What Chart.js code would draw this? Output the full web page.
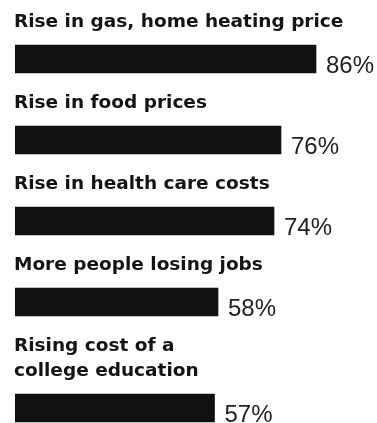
<!DOCTYPE html>
<html>
<head>
<meta charset="utf-8">
<script src="https://cdn.jsdelivr.net/npm/chart.js@4.4.0/dist/chart.umd.min.js"></script>
<style>
  html, body { margin: 0; padding: 0; background: #ffffff; }
  #wrap { width: 377px; height: 423px; }
</style>
</head>
<body>
<div id="wrap"><canvas id="c" width="377" height="423"></canvas></div>
<script>
// ---- data ----
const categories = [
  ["Rise in gas, home heating price"],
  ["Rise in food prices"],
  ["Rise in health care costs"],
  ["More people losing jobs"],
  ["Rising cost of a", "college education"]
];
const values = [86, 76, 74, 58, 57];
const valueLabels = ["86%", "76%", "74%", "58%", "57%"];

// ---- layout (row positions derived from number of title lines) ----
const TOP_PAD = 8;
const TITLE_LINE_H = 25;
const TITLE_TO_BAR_CENTER = 26;
const BAR_H = 28;
const ROW_GAP = 16;
const rowCenters = [];
const rowStarts = [];
{
  let start = TOP_PAD;
  categories.forEach(lines => {
    rowStarts.push(start);
    const center = start + lines.length * TITLE_LINE_H + TITLE_TO_BAR_CENTER;
    rowCenters.push(center);
    start = center + BAR_H / 2 + ROW_GAP;
  });
}

const labelPlugin = {
  id: 'rowLabels',
  afterDatasetsDraw(chart) {
    const ctx = chart.ctx;
    const meta = chart.getDatasetMeta(0);
    const yScale = chart.scales.y;
    ctx.save();
    // titles
    ctx.fillStyle = '#141414';
    ctx.font = 'bold 18.5px "DejaVu Sans"';
    ctx.textAlign = 'left';
    ctx.textBaseline = 'alphabetic';
    categories.forEach((lines, i) => {
      lines.forEach((ln, k) => {
        const y = yScale.getPixelForValue(rowStarts[i]) + 19 + k * TITLE_LINE_H;
        ctx.fillText(ln, 14, y);
      });
    });
    // values
    ctx.fillStyle = '#222222';
    ctx.font = '24px "Liberation Sans"';
    meta.data.forEach((bar, i) => {
      ctx.fillText(valueLabels[i], bar.x + 10, bar.y + bar.height / 2);
    });
    ctx.restore();
  }
};

new Chart(document.getElementById('c'), {
  type: 'bar',
  data: {
    labels: categories,
    datasets: [{
      data: values.map((v, i) => ({ x: v, y: rowCenters[i] })),
      backgroundColor: '#111111',
      borderWidth: 0,
      barThickness: BAR_H
    }]
  },
  options: {
    indexAxis: 'y',
    responsive: false,
    animation: false,
    devicePixelRatio: 1,
    layout: { padding: { left: 15, right: 12, top: 0, bottom: 0 } },
    plugins: { legend: { display: false }, tooltip: { enabled: false } },
    scales: {
      x: { type: 'linear', min: 0, max: 100, display: false, offset: false },
      y: { type: 'linear', min: 0, max: 423, reverse: true, display: false, offset: false }
    }
  },
  plugins: [labelPlugin]
});
</script>
</body>
</html>
